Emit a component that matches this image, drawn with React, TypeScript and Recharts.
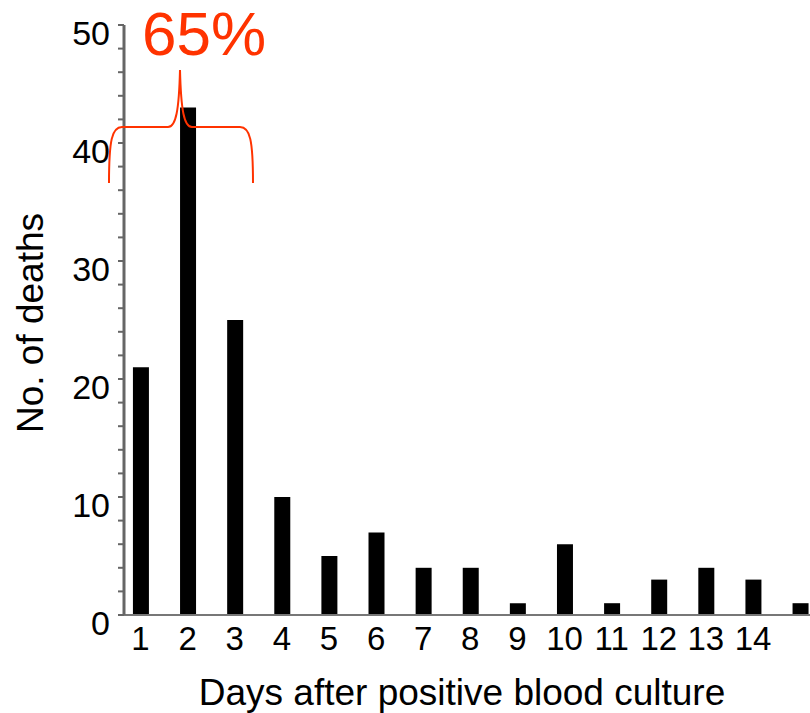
import { BarChart, Bar, XAxis, YAxis } from 'recharts';

const days = [1, 2, 3, 4, 5, 6, 7, 8, 9, 10, 11, 12, 13, 14, 15];
const deaths = [21, 43, 25, 10, 5, 7, 4, 4, 1, 6, 1, 3, 4, 3, 1];
const xTickLabels = [1, 2, 3, 4, 5, 6, 7, 8, 9, 10, 11, 12, 13, 14];
const yTicks = [0, 2, 4, 6, 8, 10, 12, 14, 16, 18, 20, 22, 24, 26, 28, 30, 32, 34, 36, 38, 40, 42, 44, 46, 48, 50];
const shareLabel = '65%';

const data = days.map((d, i) => ({ day: d, deaths: deaths[i] }));

const W = 810;
const H = 713;
const PLOT_LEFT = 124;
const PLOT_TOP = 25;
const PLOT_BOTTOM = 615;
const X_DOMAIN: [number, number] = [0.65, 15.21];
const FONT = '"Liberation Sans", Arial, Helvetica, sans-serif';

function YTick({ x, y, payload }: any) {
  if (payload.value % 10 !== 0) return null;
  return (
    <text x={x} y={y + 20} textAnchor="end" fontSize={34} fill="#000" fontFamily={FONT}>
      {payload.value}
    </text>
  );
}

function XTick({ x, payload }: any) {
  return (
    <text x={x} y={650} textAnchor="middle" fontSize={33} fill="#000" fontFamily={FONT}>
      {payload.value}
    </text>
  );
}

// red brace over days 1-3
function Brace() {
  return (
    <svg width={W} height={H} style={{ position: 'absolute', left: 0, top: 0, pointerEvents: 'none' }}>
      <text x={204} y={55} textAnchor="middle" fontSize={62} fill="#ff3300" fontFamily={FONT}>
        {shareLabel}
      </text>
      <path
        d="M109,183 C109,140 112,127 122,127 L168,127 C176,127 179,110 180,70 C181,110 184,127 192,127 L240,127 C250,127 253,140 253,183"
        fill="none"
        stroke="#ff3300"
        strokeWidth={2}
      />
    </svg>
  );
}

export default function App() {
  return (
    <div style={{ position: 'absolute', left: 0, top: 0, width: W, height: H, background: '#fff' }}>
      <BarChart
        width={W}
        height={H}
        data={data}
        margin={{ top: PLOT_TOP, right: 0, left: 0, bottom: 0 }}
      >
        <XAxis
          dataKey="day"
          type="number"
          domain={X_DOMAIN}
          allowDataOverflow
          ticks={xTickLabels}
          interval={0}
          height={H - PLOT_BOTTOM}
          tick={<XTick />}
          tickLine={false}
          axisLine={{ stroke: '#777', strokeWidth: 2 }}
          label={{
            content: ({ viewBox }: any) => (
              <text
                x={viewBox.x + viewBox.width / 2 - 5}
                y={705}
                textAnchor="middle"
                fontSize={37}
                fill="#000"
                fontFamily={FONT}
              >
                Days after positive blood culture
              </text>
            ),
          }}
        />
        <YAxis
          domain={[0, 50]}
          ticks={yTicks}
          interval={0}
          width={PLOT_LEFT}
          tickSize={6}
          tickMargin={8}
          tick={<YTick />}
          tickLine={{ stroke: '#666', strokeWidth: 2 }}
          axisLine={{ stroke: '#666', strokeWidth: 3 }}
          label={{
            content: () => (
              <text
                x={43}
                y={323}
                transform="rotate(-90, 43, 323)"
                textAnchor="middle"
                fontSize={37}
                fill="#000"
                fontFamily={FONT}
              >
                No. of deaths
              </text>
            ),
          }}
        />
        <Bar dataKey="deaths" fill="#000" barSize={16} isAnimationActive={false} />
      </BarChart>
      <Brace />
    </div>
  );
}
